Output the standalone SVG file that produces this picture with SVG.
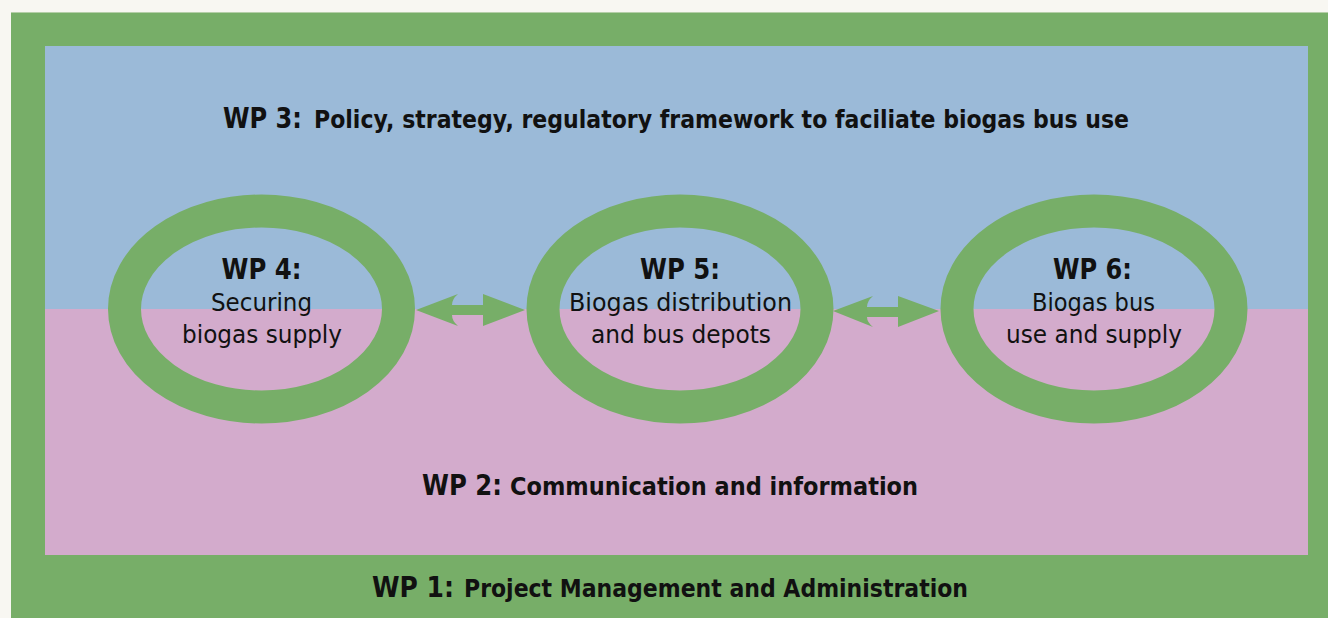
<svg xmlns="http://www.w3.org/2000/svg" width="1328" height="618" viewBox="0 0 1328 618">
  <style>
    .t { font-family: "DejaVu Sans", "Liberation Sans", sans-serif; fill: #111; }
    .head { font-size: 28px; font-weight: bold; }
    .band { font-size: 24px; font-weight: bold; }
    .body { font-size: 25px; }
    .ring { fill: none; stroke: #77ae68; stroke-width: 33; }
    .arrow { fill: #77ae68; }
  </style>

  <!-- page and frame -->
  <rect x="0" y="0" width="1328" height="618" fill="#f8f7f2"/>
  <g id="wp1">
    <rect x="11" y="12" width="1317" height="606" fill="#77ae68"/>
    <rect x="11" y="12" width="1317" height="1" fill="#b5cfa8"/>
    <text class="t head" x="372" y="597" textLength="82" lengthAdjust="spacingAndGlyphs">WP 1:</text>
    <text class="t band" x="464" y="597" textLength="504" lengthAdjust="spacingAndGlyphs">Project Management and Administration</text>
  </g>

  <g id="wp3">
    <rect x="45" y="46" width="1263" height="263" fill="#9bbad8"/>
    <text class="t head" x="223" y="128" textLength="79" lengthAdjust="spacingAndGlyphs">WP 3:</text>
    <text class="t band" x="314" y="128" textLength="815" lengthAdjust="spacingAndGlyphs">Policy, strategy, regulatory framework to faciliate biogas bus use</text>
  </g>

  <g id="wp2">
    <rect x="45" y="309" width="1263" height="246" fill="#d3abcc"/>
    <text class="t head" x="422" y="495" textLength="80" lengthAdjust="spacingAndGlyphs">WP 2:</text>
    <text class="t band" x="510" y="495" textLength="408" lengthAdjust="spacingAndGlyphs">Communication and information</text>
  </g>

  <!-- connectors: double-headed arrows between the rings -->
  <g id="connectors">
    <path class="arrow" d="M416,310 L458,294 Q452,299 452,305 L483,305 L483,294 L525,310 L483,326 L483,315 L452,315 Q452,321 458,326 Z"/>
    <path class="arrow" d="M833,311 L873,296 Q867,301 867,307 L898,307 L898,296 L939,311 L898,327 L898,317 L867,317 Q867,322 873,327 Z"/>
  </g>

  <g id="wp4">
    <ellipse class="ring" cx="261.5" cy="309" rx="137" ry="98"/>
    <text class="t head" x="261.5" y="279" text-anchor="middle" textLength="80" lengthAdjust="spacingAndGlyphs">WP 4:</text>
    <text class="t body" x="261.5" y="311" text-anchor="middle" textLength="101" lengthAdjust="spacingAndGlyphs">Securing</text>
    <text class="t body" x="262" y="343" text-anchor="middle" textLength="160" lengthAdjust="spacingAndGlyphs">biogas supply</text>
  </g>

  <g id="wp5">
    <ellipse class="ring" cx="680" cy="309" rx="137" ry="98"/>
    <text class="t head" x="680" y="279" text-anchor="middle" textLength="80" lengthAdjust="spacingAndGlyphs">WP 5:</text>
    <text class="t body" x="680.5" y="311" text-anchor="middle" textLength="223" lengthAdjust="spacingAndGlyphs">Biogas distribution</text>
    <text class="t body" x="681" y="343" text-anchor="middle" textLength="180" lengthAdjust="spacingAndGlyphs">and bus depots</text>
  </g>

  <g id="wp6">
    <ellipse class="ring" cx="1094" cy="309" rx="137" ry="98"/>
    <text class="t head" x="1092.5" y="279" text-anchor="middle" textLength="79" lengthAdjust="spacingAndGlyphs">WP 6:</text>
    <text class="t body" x="1093.5" y="311" text-anchor="middle" textLength="123" lengthAdjust="spacingAndGlyphs">Biogas bus</text>
    <text class="t body" x="1094" y="343" text-anchor="middle" textLength="176" lengthAdjust="spacingAndGlyphs">use and supply</text>
  </g>
</svg>
